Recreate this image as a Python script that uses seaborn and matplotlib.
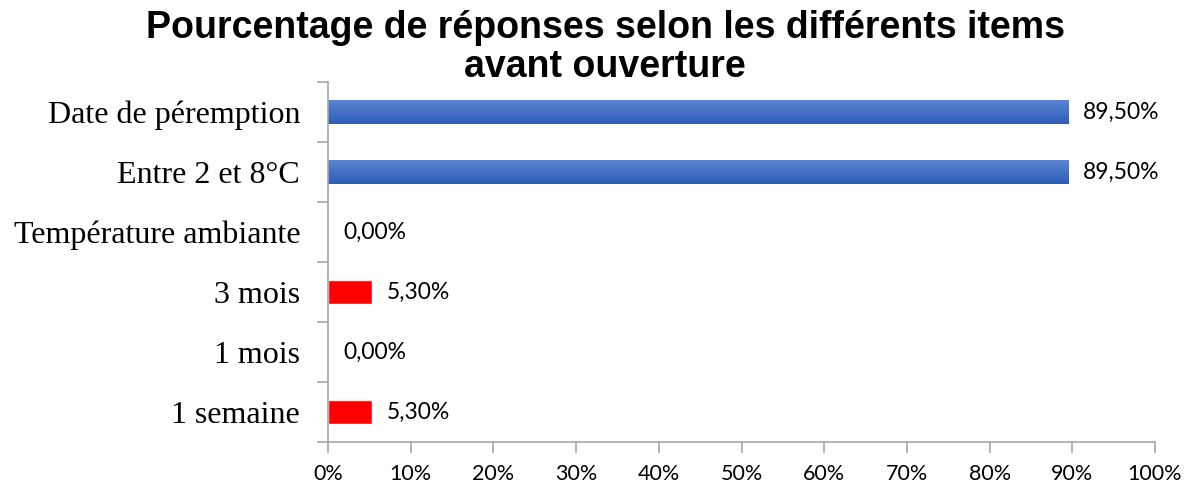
import matplotlib
matplotlib.use("Agg")
import matplotlib.pyplot as plt
import seaborn as sns
import pandas as pd
import numpy as np
from matplotlib.ticker import FixedLocator
from matplotlib.colors import LinearSegmentedColormap

categories = ["Date de péremption", "Entre 2 et 8°C", "Température ambiante", "3 mois", "1 mois", "1 semaine"]
values = [89.5, 89.5, 0.0, 5.3, 0.0, 5.3]
labels = ["89,50%", "89,50%", "0,00%", "5,30%", "0,00%", "5,30%"]
colors = ["#3D6CC3", "#3D6CC3", "#3D6CC3", "#FF0000", "#FF0000", "#FF0000"]
xticks = [0, 10, 20, 30, 40, 50, 60, 70, 80, 90, 100]

sns.set_theme(style="white")
df = pd.DataFrame({"cat": categories, "val": values})

fig = plt.figure(figsize=(11.92, 4.90), dpi=100)
ax = fig.add_axes([328/1192, 1-442/490, (1155-328)/1192, (442-82)/490])
sns.barplot(data=df, y="cat", x="val", hue="cat", palette=dict(zip(categories, colors)),
            order=categories, width=0.40, legend=False, ax=ax, saturation=1)

ax.set_xlim(0, 100)
ax.set_ylim(5.5, -0.5)

# vertical gradient on the blue bars
blue_grad = LinearSegmentedColormap.from_list("bg", ["#5B85D1", "#2C5DB6"])
grad = np.linspace(0, 1, 64).reshape(-1, 1)
for p in list(ax.patches):
    fc = p.get_facecolor()
    if fc[2] > 0.5 and p.get_width() > 0:
        x0, y0 = p.get_x(), p.get_y()
        w, h = p.get_width(), p.get_height()
        im = ax.imshow(grad, cmap=blue_grad, aspect="auto",
                       extent=(x0, x0 + w, y0 + h, y0), origin="upper", zorder=p.get_zorder() + 0.1)
        im.set_clip_path(p)
ax.set_xlim(0, 100)
ax.set_ylim(5.5, -0.5)

ax.set_xlabel("")
ax.set_ylabel("")
ax.set_xticks(xticks)
ax.set_xticklabels([f"{t}%" for t in xticks], fontfamily="Lato", fontsize=15.5, color="#000000")
ax.set_yticks(range(len(categories)))
ax.set_yticklabels(categories, fontfamily="Liberation Serif", fontsize=23, color="#000000")
ax.yaxis.set_minor_locator(FixedLocator(np.arange(-0.5, 6, 1)))
ax.tick_params(axis="y", which="major", length=0, pad=20)
ax.tick_params(axis="y", which="minor", length=8, color="#A6A6A6", width=1.2, left=True)
ax.tick_params(axis="x", which="major", length=8, color="#A6A6A6", width=1.2, bottom=True, pad=8)
for s in ["top", "right"]:
    ax.spines[s].set_visible(False)
for s in ["left", "bottom"]:
    ax.spines[s].set_color("#A6A6A6")
    ax.spines[s].set_linewidth(1.2)

for i, (v, lab) in enumerate(zip(values, labels)):
    ax.annotate(lab, xy=(v, i), xytext=(15, 0), textcoords="offset pixels",
                va="center", ha="left", fontfamily="Lato", fontsize=16.5, color="#000000")

fig.suptitle("Pourcentage de réponses selon les différents items\navant ouverture",
             x=605/1192, y=1-10/490, va="top", fontfamily="Liberation Sans", fontweight="bold",
             fontsize=27, linespacing=1.12, color="#000000")

fig.savefig("out.png", dpi=100)
